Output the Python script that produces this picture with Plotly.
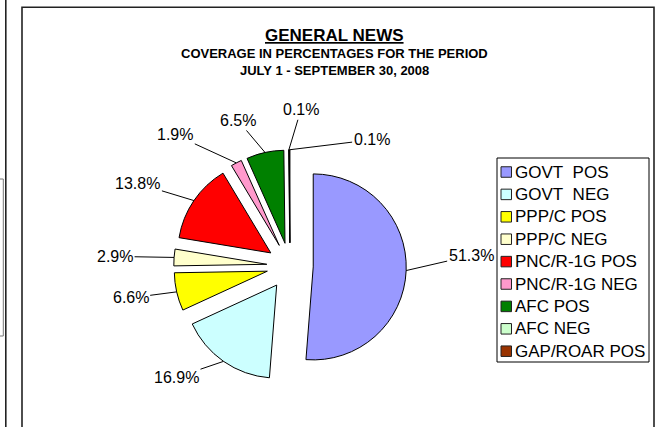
import math
import plotly.graph_objects as go

# ---------------- data ----------------
labels = ["GOVT  POS", "GOVT  NEG", "PPP/C POS", "PPP/C NEG", "PNC/R-1G POS",
          "PNC/R-1G NEG", "AFC POS", "AFC NEG", "GAP/ROAR POS"]
values = [51.3, 16.9, 6.6, 2.9, 13.8, 1.9, 6.5, 0.1, 0.1]
colors = ["#9999FF", "#CCFFFF", "#FFFF00", "#FFFFCC", "#FF0000",
          "#FF99CC", "#008000", "#CCFFCC", "#993300"]

title_main = "GENERAL NEWS"
title_sub1 = "COVERAGE IN PERCENTAGES FOR THE PERIOD"
title_sub2 = "JULY 1 - SEPTEMBER 30, 2008"

# ---------------- layout geometry (pixels) ----------------
W, H = 659, 427
CX, CY, R, PULL = 290.0, 266.0, 93.0, 0.25
FONT = "Liberation Sans, Arial, sans-serif"

# label text offsets (pixels) from the slice edge point
LABEL_OFFSETS = [(65, -15), (-47, 16), (-46, 6), (-59, -1), (-56, -17),
                 (-61, -28), (-27, -32), (12, -40), (82, -10)]


def px(x):
    return x / W


def py(y):
    return 1 - y / H


half = R * (1 + PULL)
domain_x = [px(CX - half), px(CX + half)]
domain_y = [py(CY + half), py(CY - half)]

fig = go.Figure(go.Pie(
    labels=labels,
    values=values,
    sort=False,
    direction="clockwise",
    rotation=0,
    pull=[PULL] * len(values),
    marker=dict(colors=colors, line=dict(color="black", width=1)),
    textinfo="none",
    hoverinfo="label+percent",
    showlegend=False,
    domain=dict(x=domain_x, y=domain_y),
))

annotations = []
shapes = []

# percentage labels with leader lines
total = sum(values)
cum = 0.0
for v, off in zip(values, LABEL_OFFSETS):
    theta = math.radians(360.0 * (cum + v / 2) / total)
    cum += v
    ex = CX + half * math.sin(theta)
    ey = CY - half * math.cos(theta)
    annotations.append(dict(
        x=px(ex), y=py(ey), xref="paper", yref="paper",
        text=f"{v:.1f}%", showarrow=True, arrowhead=0, arrowwidth=1,
        arrowcolor="black", ax=off[0], ay=off[1], standoff=0,
        font=dict(family=FONT, size=16, color="black"),
    ))

# titles
annotations.append(dict(x=px(334.5), y=py(36), xref="paper", yref="paper",
                        text=f"<b><u>{title_main}</u></b>", showarrow=False,
                        xanchor="center", yanchor="middle",
                        font=dict(family=FONT, size=17, color="black")))
annotations.append(dict(x=px(334), y=py(53), xref="paper", yref="paper",
                        text=f"<b>{title_sub1}</b>", showarrow=False,
                        xanchor="center", yanchor="middle",
                        font=dict(family=FONT, size=13, color="black")))
annotations.append(dict(x=px(334), y=py(70.5), xref="paper", yref="paper",
                        text=f"<b>{title_sub2}</b>", showarrow=False,
                        xanchor="center", yanchor="middle",
                        font=dict(family=FONT, size=13, color="black")))

# legend (drawn box, swatches from colors, texts from labels)
LEG_X0, LEG_X1, LEG_Y0, LEG_Y1 = 497, 649, 158, 362
ITEM_Y0, ITEM_DY = 172.0, 22.4
shapes.append(dict(type="rect", xref="paper", yref="paper",
                   x0=px(LEG_X0), x1=px(LEG_X1), y0=py(LEG_Y1), y1=py(LEG_Y0),
                   line=dict(color="black", width=1), fillcolor="white", layer="below"))
for i, (lab, col) in enumerate(zip(labels, colors)):
    yc = ITEM_Y0 + i * ITEM_DY
    shapes.append(dict(type="rect", xref="paper", yref="paper",
                       x0=px(501), x1=px(511.5), y0=py(yc + 5.25), y1=py(yc - 5.25),
                       line=dict(color="#222222", width=1), fillcolor=col))
    annotations.append(dict(x=px(513), y=py(yc), xref="paper", yref="paper",
                            text=lab.replace("  ", "&nbsp; "), showarrow=False,
                            xanchor="left", yanchor="middle",
                            font=dict(family=FONT, size=17, color="black")))

# chart frames
shapes.append(dict(type="rect", xref="paper", yref="paper",
                   x0=px(22), x1=px(654), y0=py(432), y1=py(7.3),
                   line=dict(color="#222222", width=1.6), layer="below"))
shapes.append(dict(type="line", xref="paper", yref="paper",
                   x0=px(5.8), x1=px(5.8), y0=py(-5), y1=py(432),
                   line=dict(color="#222222", width=1.6)))
shapes.append(dict(type="rect", xref="paper", yref="paper",
                   x0=px(-5), x1=px(3.3), y0=py(336), y1=py(179),
                   line=dict(color="#777777", width=1)))

fig.update_layout(
    width=W, height=H,
    margin=dict(l=0, r=0, t=0, b=0),
    paper_bgcolor="white", plot_bgcolor="white",
    annotations=annotations, shapes=shapes,
    showlegend=False,
)

fig.write_html("out.html")
